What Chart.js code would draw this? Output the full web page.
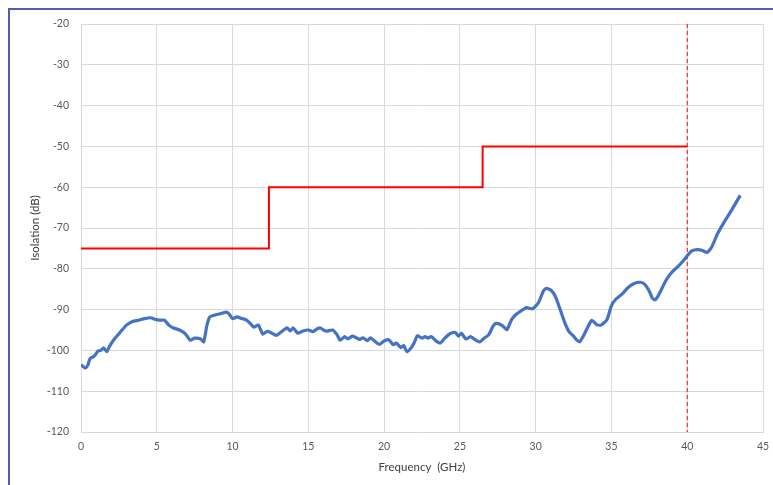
<!DOCTYPE html>
<html>
<head>
<meta charset="utf-8">
<script src="https://cdn.jsdelivr.net/npm/chart.js@4"></script>
<style>
  html, body { margin: 0; padding: 0; background: #fff; overflow: hidden; }
  #frame { position: absolute; left: 8px; top: 8px; width: 820px; height: 520px; border: 2px solid #4a62ad; box-sizing: border-box; }
  #wrap { position: absolute; left: 0; top: 0; width: 773px; height: 485px; }
</style>
</head>
<body>
<div id="frame"></div>
<div id="wrap"><canvas id="myChart"></canvas></div>
<script>
'use strict'

// measured isolation curve (GHz, dB)
const freqGHz = [0.0, 0.15, 0.3, 0.45, 0.6, 0.8, 1.0, 1.1, 1.3, 1.5, 1.7, 1.9, 2.2, 2.6, 3.0, 3.4, 3.8, 4.2, 4.6, 4.9,
  5.2, 5.5, 5.8, 6.1, 6.5, 6.9, 7.2, 7.5, 7.9, 8.1, 8.3, 8.5, 8.8, 9.2, 9.6, 9.8, 10.0, 10.3, 10.6, 10.9,
  11.2, 11.4, 11.7, 12.0, 12.3, 12.5, 12.9, 13.2, 13.6, 13.8, 14.0, 14.3, 14.6, 15.0, 15.3, 15.6, 15.8, 16.0, 16.2, 16.6,
  16.9, 17.1, 17.4, 17.6, 17.9, 18.1, 18.4, 18.6, 18.9, 19.1, 19.4, 19.7, 20.0, 20.3, 20.6, 20.8, 21.1, 21.3, 21.5, 21.8,
  22.0, 22.2, 22.5, 22.7, 22.9, 23.1, 23.4, 23.7, 24.0, 24.4, 24.7, 24.9, 25.1, 25.4, 25.7, 25.9, 26.3, 26.6, 26.9, 27.2,
  27.4, 27.8, 28.1, 28.4, 28.7, 29.0, 29.4, 29.8, 30.2, 30.5, 30.7, 31.0, 31.3, 31.6, 31.9, 32.2, 32.5, 32.7, 32.9, 33.1,
  33.4, 33.7, 34.0, 34.3, 34.7, 35.0, 35.3, 35.7, 36.1, 36.5, 36.9, 37.2, 37.5, 37.7, 37.9, 38.2, 38.6, 39.0, 39.4, 39.8,
  40.0, 40.3, 40.7, 41.0, 41.3, 41.6, 42.0, 42.4, 42.9, 43.5]
const isolationDb = [-103.5, -104.0, -104.3, -103.6, -102.0, -101.6, -100.8, -100.2, -100.0, -99.4, -100.3, -98.9, -97.2, -95.5, -93.8, -92.9, -92.6, -92.2, -92.0, -92.4,
  -92.6, -92.6, -93.8, -94.5, -95.0, -96.0, -97.5, -97.0, -97.2, -97.9, -94.0, -91.8, -91.4, -91.0, -90.6, -91.2, -92.2, -91.8, -92.2, -92.5,
  -93.5, -94.3, -93.8, -96.0, -95.3, -95.6, -96.3, -95.5, -94.5, -95.2, -94.5, -95.8, -95.3, -95.0, -95.4, -94.7, -94.5, -95.0, -95.3, -95.0,
  -96.2, -97.5, -96.6, -97.2, -96.5, -96.8, -97.3, -96.9, -97.6, -96.9, -97.8, -98.5, -97.7, -97.4, -98.6, -98.2, -99.3, -98.8, -100.3, -99.3,
  -98.0, -96.4, -97.0, -96.6, -97.0, -96.6, -97.6, -98.2, -97.0, -95.8, -95.6, -96.5, -95.8, -97.2, -96.6, -97.1, -97.9, -97.0, -96.2, -94.0,
  -93.4, -93.9, -94.9, -92.5, -91.2, -90.4, -89.5, -89.8, -88.2, -85.5, -84.8, -85.2, -86.8, -89.8, -93.0, -95.4, -96.5, -97.4, -97.9, -96.8,
  -94.6, -92.6, -93.6, -93.8, -92.5, -89.0, -87.4, -86.2, -84.6, -83.6, -83.3, -83.8, -85.5, -87.2, -87.6, -85.8, -82.8, -80.8, -79.4, -77.8,
  -76.8, -75.6, -75.3, -75.5, -76.0, -74.8, -71.4, -68.8, -65.8, -62.0]

// spec limit (stepped)
const limitFreq = [0, 12.4, 26.5, 40]
const limitDb = [-75, -60, -50, -50]

// band edge marker
const markerFreq = 40

const xTicks = [0, 5, 10, 15, 20, 25, 30, 35, 40, 45]
const yTicks = [-20, -30, -40, -50, -60, -70, -80, -90, -100, -110, -120]

const toPoints = (xs, ys) => xs.map((x, i) => ({ x: x, y: ys[i] }))

const ctx = document.getElementById('myChart')

const tickFont = { family: 'Lato', size: 10.5 }
const titleFont = { family: 'Lato', size: 11.5 }

const myChart = new Chart(ctx, {
  type: 'line',
  data: {
    datasets: [
      {
        label: 'Isolation',
        data: toPoints(freqGHz, isolationDb),
        borderColor: '#4472C4',
        borderWidth: 3.2,
        pointRadius: 0,
        tension: 0.2,
        order: 1
      },
      {
        label: 'Limit',
        data: toPoints(limitFreq, limitDb),
        borderColor: '#FF0000',
        borderWidth: 2,
        pointRadius: 0,
        stepped: true,
        order: 2
      },
      {
        label: 'Marker',
        data: [{ x: markerFreq, y: yTicks[0] }, { x: markerFreq, y: yTicks[yTicks.length - 1] }],
        borderColor: '#FF0000',
        borderWidth: 1,
        borderDash: [4, 3],
        pointRadius: 0,
        order: 3
      }
    ]
  },
  options: {
    responsive: true,
    maintainAspectRatio: false,
    animation: false,
    layout: { padding: { left: 24, top: 24, right: 10, bottom: 7 } },
    plugins: { legend: { display: false }, tooltip: { enabled: false } },
    scales: {
      x: {
        type: 'linear',
        min: 0,
        max: 45,
        afterBuildTicks: (scale) => { scale.ticks = xTicks.map(v => ({ value: v })) },
        afterFit: (scale) => {
          scale.height = 46
          scale.paddingLeft = 0
          scale.paddingRight = 0
        },
        grid: { color: '#d9d9d9', drawTicks: false },
        border: { color: '#d9d9d9' },
        ticks: { color: '#595959', font: tickFont, padding: 8, maxRotation: 0 },
        title: { display: true, text: 'Frequency  (GHz)', color: '#404040', font: titleFont }
      },
      y: {
        min: -120,
        max: -20,
        afterBuildTicks: (scale) => { scale.ticks = yTicks.map(v => ({ value: v })) },
        afterFit: (scale) => {
          scale.width = 57
          scale.paddingTop = 0
          scale.paddingBottom = 0
        },
        grid: { color: '#d9d9d9', drawTicks: false },
        border: { color: '#d9d9d9' },
        ticks: { color: '#595959', font: tickFont, padding: 12 },
        title: { display: true, text: 'Isolation (dB)', color: '#404040', font: titleFont }
      }
    }
  }
})
</script>
</body>
</html>
